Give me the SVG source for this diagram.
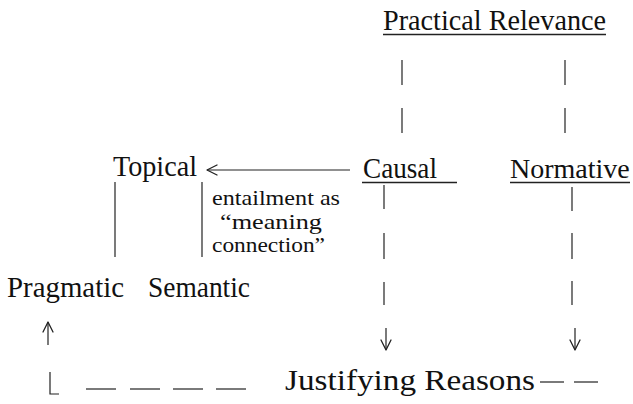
<svg xmlns="http://www.w3.org/2000/svg" width="633" height="404" viewBox="0 0 633 404">
  <style>
    .t { font-family: "Liberation Serif", "Times New Roman", serif; font-size: 29px; fill: #111; }
    .s { font-family: "Liberation Serif", "Times New Roman", serif; font-size: 22px; fill: #111; }
    .u { stroke: #222; stroke-width: 1.3; fill: none; }
    .c { stroke: #222; stroke-width: 1.2; fill: none; }
    .h { stroke: #222; stroke-width: 1.3; fill: none; stroke-linecap: round; stroke-linejoin: round; }
  </style>
  <rect width="633" height="404" fill="#fff"/>

  <g id="practical-relevance">
    <text class="t" x="383" y="30" textLength="223" lengthAdjust="spacingAndGlyphs">Practical Relevance</text>
    <line class="u" x1="383" y1="34.5" x2="606" y2="34.5"/>
  </g>
  <g id="topical">
    <text class="t" x="113" y="176" textLength="84" lengthAdjust="spacingAndGlyphs">Topical</text>
  </g>
  <g id="causal">
    <text class="t" x="363" y="178" textLength="74" lengthAdjust="spacingAndGlyphs">Causal</text>
    <line class="u" x1="362" y1="182.5" x2="457" y2="182.5"/>
  </g>
  <g id="normative">
    <text class="t" x="510" y="178" style="font-size:28px">Normative</text>
    <line class="u" x1="510" y1="182.5" x2="630" y2="182.5"/>
  </g>
  <g id="pragmatic">
    <text class="t" x="7" y="297" textLength="117" lengthAdjust="spacingAndGlyphs">Pragmatic</text>
  </g>
  <g id="semantic">
    <text class="t" x="148" y="297" textLength="102" lengthAdjust="spacingAndGlyphs">Semantic</text>
  </g>
  <g id="entailment-label">
    <text class="s" x="212" y="205" textLength="128" lengthAdjust="spacingAndGlyphs">entailment as</text>
    <text class="s" x="220" y="229" textLength="102" lengthAdjust="spacingAndGlyphs">“meaning</text>
    <text class="s" x="212" y="252" textLength="113" lengthAdjust="spacingAndGlyphs">connection”</text>
  </g>
  <g id="justifying-reasons">
    <text class="t" x="285" y="390" textLength="250" lengthAdjust="spacingAndGlyphs">Justifying Reasons</text>
  </g>

  <g id="connectors">
    <!-- Practical Relevance to Causal / Normative (dashed) -->
    <line class="c" x1="402" y1="60" x2="402" y2="85"/>
    <line class="c" x1="402" y1="108" x2="402" y2="133"/>
    <line class="c" x1="565" y1="60" x2="565" y2="85"/>
    <line class="c" x1="565" y1="108" x2="565" y2="133"/>
    <!-- Causal to Topical arrow -->
    <line class="c" x1="207" y1="170" x2="350" y2="170"/>
    <polyline class="h" points="217,165 207,170 217,175"/>
    <!-- Topical to Pragmatic / Semantic -->
    <line class="c" x1="115" y1="182" x2="115" y2="257"/>
    <line class="c" x1="202" y1="182" x2="202" y2="257"/>
    <!-- Causal to Justifying Reasons -->
    <line class="c" x1="384" y1="185" x2="384" y2="209"/>
    <line class="c" x1="384" y1="233" x2="384" y2="259"/>
    <line class="c" x1="384" y1="282" x2="384" y2="305"/>
    <line class="c" x1="386" y1="328" x2="386" y2="350"/>
    <polyline class="h" points="381,340 386,350 391,340"/>
    <!-- Normative to Justifying Reasons -->
    <line class="c" x1="572" y1="187" x2="572" y2="211"/>
    <line class="c" x1="572" y1="233" x2="572" y2="259"/>
    <line class="c" x1="572" y1="281" x2="572" y2="305"/>
    <line class="c" x1="575" y1="328" x2="575" y2="350"/>
    <polyline class="h" points="570,340 575,350 580,340"/>
    <!-- Justifying Reasons back to Pragmatic -->
    <line class="c" x1="540" y1="382" x2="564" y2="382"/>
    <line class="c" x1="574" y1="382" x2="598" y2="382"/>
    <line class="c" x1="86" y1="389" x2="116" y2="389"/>
    <line class="c" x1="130" y1="389" x2="160" y2="389"/>
    <line class="c" x1="173" y1="389" x2="203" y2="389"/>
    <line class="c" x1="216" y1="389" x2="246" y2="389"/>
    <polyline class="c" points="50,372 50,394 59,394"/>
    <line class="c" x1="48" y1="322" x2="48" y2="345"/>
    <polyline class="h" points="43,332 48,322 53,332"/>
  </g>
</svg>
